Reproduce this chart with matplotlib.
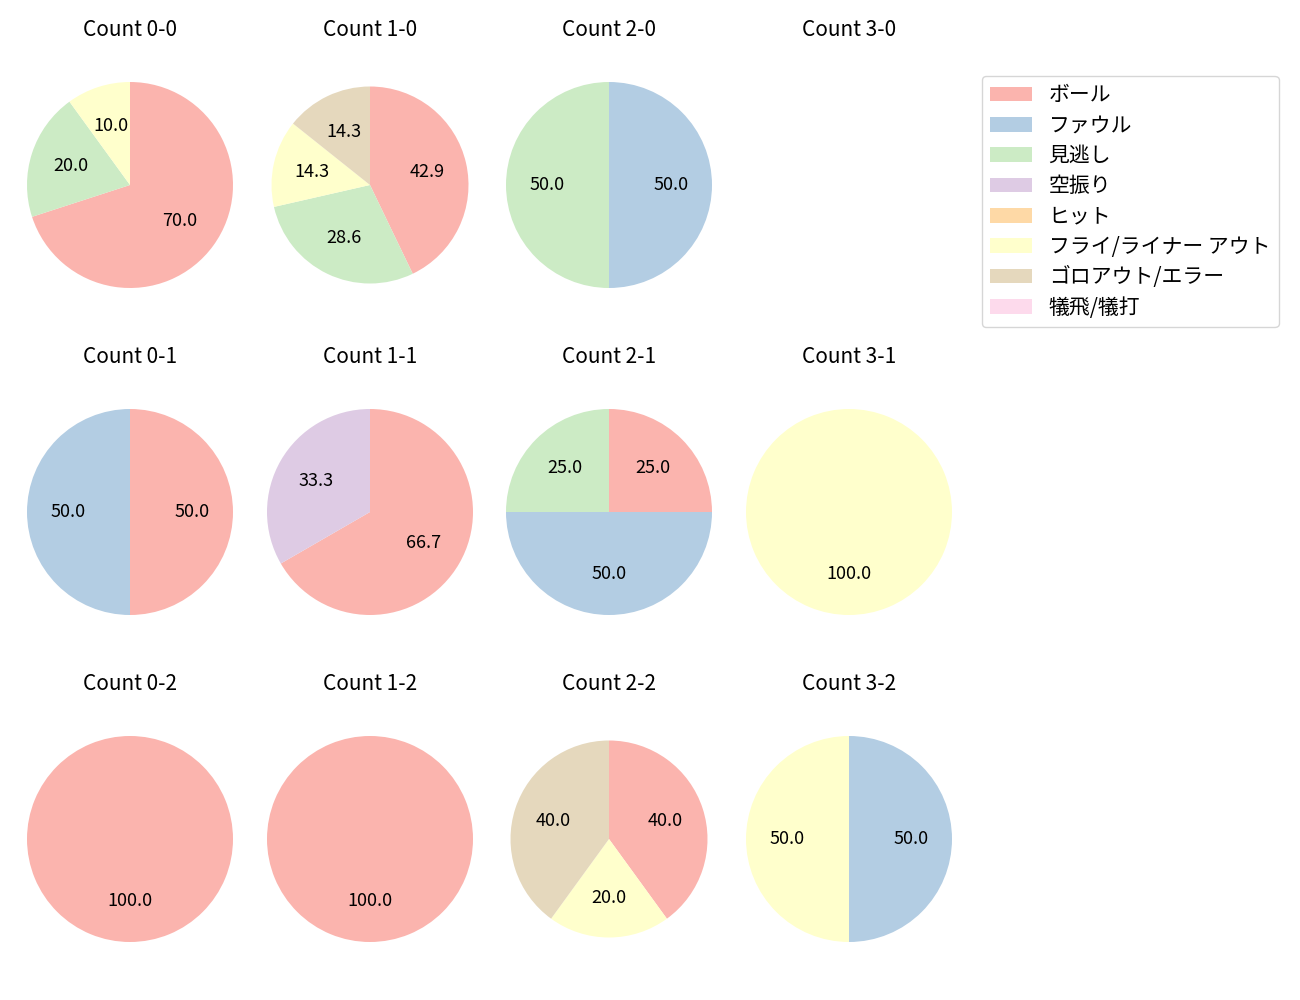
import matplotlib
matplotlib.use('Agg')
import matplotlib.pyplot as plt
import numpy as np

plt.rcParams['font.family'] = ['Noto Sans CJK JP', 'DejaVu Sans']

labels = ['ボール', 'ファウル', '見逃し', '空振り', 'ヒット',
          'フライ/ライナー アウト', 'ゴロアウト/エラー', '犠飛/犠打']
colors = ['#fbb4ae', '#b3cde3', '#ccebc5', '#decbe4',
          '#fed9a6', '#ffffcc', '#e5d8bd', '#fddaec']

# pitch results per count (balls-strikes), same order as labels
counts = {
    '0-0': [7, 0, 2, 0, 0, 1, 0, 0],
    '1-0': [3, 0, 2, 0, 0, 1, 1, 0],
    '2-0': [0, 1, 1, 0, 0, 0, 0, 0],
    '3-0': [0, 0, 0, 0, 0, 0, 0, 0],
    '0-1': [1, 1, 0, 0, 0, 0, 0, 0],
    '1-1': [2, 0, 0, 1, 0, 0, 0, 0],
    '2-1': [1, 2, 1, 0, 0, 0, 0, 0],
    '3-1': [0, 0, 0, 0, 0, 1, 0, 0],
    '0-2': [1, 0, 0, 0, 0, 0, 0, 0],
    '1-2': [1, 0, 0, 0, 0, 0, 0, 0],
    '2-2': [2, 0, 0, 0, 0, 1, 2, 0],
    '3-2': [0, 1, 0, 0, 0, 1, 0, 0],
}

W, H = 1300, 1000
fig = plt.figure(figsize=(13, 10), dpi=100)

col_x = [130, 370, 609, 849]
row_y = [185, 512, 839]
half = 120

for key, vals in counts.items():
    b, s = map(int, key.split('-'))
    cx, cy = col_x[b], row_y[s]
    ax = fig.add_axes([(cx - half) / W, 1 - (cy + half) / H, 2 * half / W, 2 * half / H])
    ax.set_title('Count ' + key, fontsize=15, pad=21)
    vals = np.array(vals)
    idx = np.nonzero(vals)[0]
    if len(idx) > 0:
        ax.pie(vals[idx], colors=[colors[i] for i in idx], startangle=90,
               counterclock=False, autopct='%.1f', textprops={'fontsize': 13})
    lim = half / 103.0
    if key in ('1-0', '2-2'):
        lim = half / 98.5
    ax.set_xlim(-lim, lim)
    ax.set_ylim(-lim, lim)
    ax.set_aspect('equal')
    ax.axis('off')

handles = [plt.Rectangle((0, 0), 1, 1, facecolor=c) for c in colors]
fig.legend(handles, labels, loc='upper left', bbox_to_anchor=(982 / W, 1 - 76 / H),
           fontsize=15, borderaxespad=0, labelspacing=0.4)

fig.savefig('out.png', dpi=100)
